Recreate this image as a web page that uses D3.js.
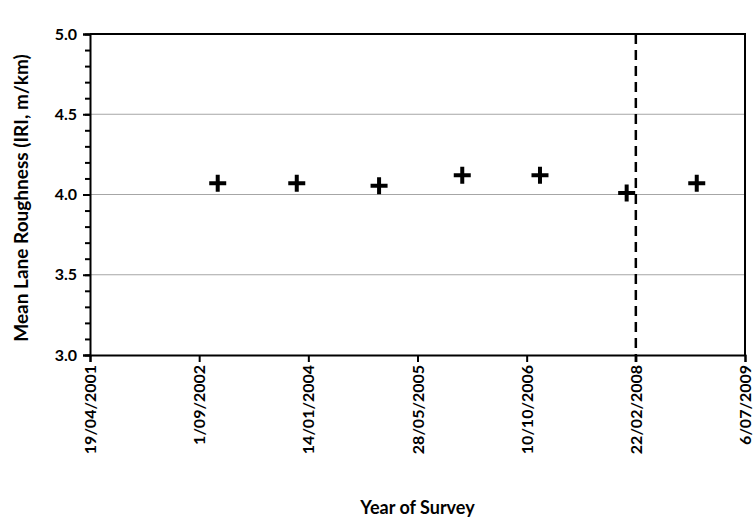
<!DOCTYPE html>
<html>
<head>
<meta charset="utf-8">
<script src="https://cdn.jsdelivr.net/npm/d3@7"></script>
<style>
  body { margin: 0; background: #fff; }
  text { font-family: Lato, "Open Sans", sans-serif; font-weight: bold; }
</style>
</head>
<body>
<svg width="755" height="522"></svg>
<script>
// survey dates and mean lane roughness (IRI, m/km)
var surveyDates = ["2002-11-25", "2003-11-22", "2004-12-03", "2005-12-19", "2006-12-10", "2008-01-11", "2008-11-27"];
var roughness = [4.07, 4.07, 4.055, 4.12, 4.12, 4.01, 4.07];
var markerDate = "2008-02-22";
var xTickLabels = ["19/04/2001", "1/09/2002", "14/01/2004", "28/05/2005", "10/10/2006", "22/02/2008", "6/07/2009"];
var yTicks = [3.0, 3.5, 4.0, 4.5, 5.0];
var gridTicks = [3.5, 4.0, 4.5];

var parseIso = d3.utcParse("%Y-%m-%d");
var parseLabel = d3.utcParse("%d/%m/%Y");
var fmtLabel = d3.utcFormat("%-d/%m/%Y");

var data = surveyDates.map(function(d, i) {
  return {date: parseIso(d), iri: roughness[i]};
});
var xTicks = xTickLabels.map(function(s) { return parseLabel(s); });

var svg = d3.select("svg"),
    margin = {top: 34, right: 10, bottom: 167, left: 90},
    width = +svg.attr("width") - margin.left - margin.right,
    height = +svg.attr("height") - margin.top - margin.bottom,
    g = svg.append("g").attr("transform", "translate(" + margin.left + "," + margin.top + ")");

var x = d3.scaleUtc()
    .domain([xTicks[0], xTicks[xTicks.length - 1]])
    .range([0, width]);

var y = d3.scaleLinear()
    .domain([3, 5])
    .range([height, 0]);

// gridlines
g.selectAll(".grid")
  .data(gridTicks)
  .enter().append("line")
    .attr("x1", 0).attr("x2", width)
    .attr("y1", function(d) { return y(d); })
    .attr("y2", function(d) { return y(d); })
    .attr("stroke", "#a6a6a6")
    .attr("stroke-width", 1);

// frame top + right
g.append("path")
    .attr("d", "M0,0H" + width + "V" + height)
    .attr("fill", "none")
    .attr("stroke", "black")
    .attr("stroke-width", 2);

// minor y ticks
var minor = d3.range(30, 51).map(function(v) { return v / 10; });
g.append("g")
    .call(d3.axisLeft(y).tickValues(minor).tickSize(5).tickFormat(""))
    .call(function(a) { a.select(".domain").remove(); a.selectAll("line").attr("stroke-width", 2); });

// y axis
var yAxis = g.append("g")
    .call(d3.axisLeft(y).tickValues(yTicks).tickSize(7).tickPadding(6).tickFormat(d3.format(".1f")));
yAxis.select(".domain").attr("stroke-width", 2);
yAxis.selectAll("line").attr("stroke-width", 2);
yAxis.selectAll("text").attr("font-size", 16).attr("font-family", "Lato, sans-serif").attr("font-weight", "bold").attr("fill", "#000");

// x axis
var xAxis = g.append("g")
    .attr("transform", "translate(0," + height + ")")
    .call(d3.axisBottom(x).tickValues(xTicks).tickSize(7).tickFormat(fmtLabel));
xAxis.select(".domain").attr("stroke-width", 2);
xAxis.selectAll("line").attr("stroke-width", 2);
xAxis.selectAll("text")
    .attr("font-size", 16)
    .attr("font-family", "Lato, sans-serif")
    .attr("font-weight", "bold")
    .attr("fill", "#000")
    .attr("text-anchor", "end")
    .attr("transform", "rotate(-90)")
    .attr("x", -10)
    .attr("y", 0)
    .attr("dy", "0.35em");

// dashed vertical marker
g.append("line")
    .attr("x1", x(parseIso(markerDate))).attr("x2", x(parseIso(markerDate)))
    .attr("y1", 0).attr("y2", height + 7)
    .attr("stroke", "black")
    .attr("stroke-width", 2.5)
    .attr("stroke-dasharray", "10,6");

// plus markers
g.selectAll(".pt")
  .data(data)
  .enter().append("path")
    .attr("d", "M-8.5,0H8.5M0,-8.5V8.5")
    .attr("transform", function(d) { return "translate(" + x(d.date) + "," + y(d.iri) + ")"; })
    .attr("stroke", "black")
    .attr("stroke-width", 4)
    .attr("fill", "none");

// axis titles
svg.append("text")
    .attr("x", margin.left + width / 2)
    .attr("y", 514)
    .attr("text-anchor", "middle")
    .attr("font-size", 18)
    .text("Year of Survey");

svg.append("text")
    .attr("transform", "translate(28," + 198 + ") rotate(-90)")
    .attr("text-anchor", "middle")
    .attr("font-size", 19)
    .text("Mean Lane Roughness (IRI, m/km)");
</script>
</body>
</html>
